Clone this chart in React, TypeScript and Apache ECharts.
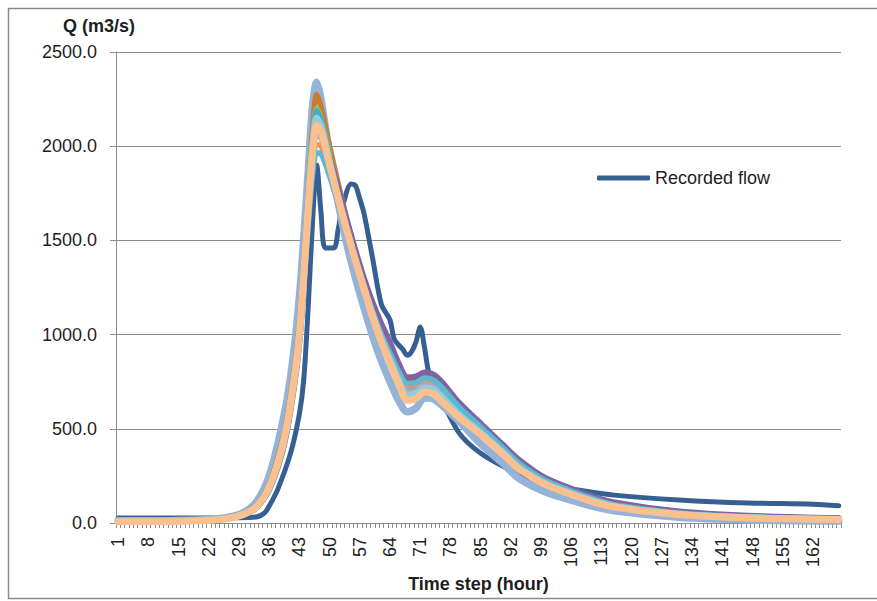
import React, { useEffect, useRef } from 'react';
import * as echarts from 'echarts';

// Hourly time steps shown on the category axis
const hours = Array.from({ length: 168 }, (_, i) => String(i + 1));

// Recorded discharge (m3/s), sampled at the listed hours
const recHours = [1, 20, 28, 33, 35, 36, 38, 41, 43, 44, 45, 46, 47, 48, 49, 51, 52, 53, 55, 56, 57, 58, 60, 62, 64, 65, 67, 68, 69, 70, 71, 72, 73, 75, 80, 85, 92, 100, 106, 116, 131, 147, 162, 168];
const recordedFlow = [26, 26, 28, 32, 55, 90, 180, 375, 580, 760, 1130, 1580, 1900, 1650, 1460, 1460, 1560, 1680, 1800, 1790, 1720, 1640, 1400, 1160, 1077, 975, 920, 890, 910, 960, 1040, 930, 800, 700, 478, 370, 280, 205, 180, 148, 122, 106, 100, 92];

// Simulated discharge runs (m3/s), sampled at these hours
const keyHours = [1, 10, 20, 26, 30, 33, 36, 39, 41, 43, 45, 46, 47, 48, 50, 52, 54, 56, 58, 60, 62, 64, 66, 68, 70, 72, 74, 76, 80, 85, 90, 94, 100, 110, 116, 131, 147, 168];

const sim1 = [12, 12, 16, 28, 55, 110, 250, 520, 780, 1200, 1850, 2200, 2340, 2250, 1950, 1700, 1480, 1300, 1140, 990, 860, 750, 650, 590, 610, 665, 660, 625, 540, 420, 320, 235, 165, 95, 65, 30, 16, 10];
const sim2 = [10, 10, 14, 24, 48, 92, 205, 430, 680, 1060, 1730, 2080, 2275, 2210, 2000, 1800, 1610, 1440, 1280, 1140, 1010, 900, 800, 730, 740, 765, 755, 715, 610, 505, 400, 315, 225, 138, 98, 54, 34, 24];
const sim3 = [10, 10, 14, 24, 46, 88, 195, 410, 650, 1020, 1680, 2020, 2200, 2150, 1960, 1770, 1590, 1430, 1280, 1140, 1020, 920, 820, 745, 750, 775, 765, 725, 620, 515, 405, 320, 230, 140, 100, 55, 35, 24];
const sim4 = [9, 9, 13, 23, 46, 88, 195, 410, 655, 1020, 1690, 2010, 2190, 2140, 1950, 1760, 1580, 1420, 1270, 1130, 1000, 895, 790, 720, 725, 750, 740, 700, 600, 495, 390, 305, 220, 132, 93, 50, 31, 22];
const sim5 = [9, 9, 13, 23, 46, 88, 195, 408, 650, 1015, 1680, 1990, 2150, 2110, 1920, 1730, 1560, 1400, 1250, 1105, 975, 865, 760, 680, 688, 718, 708, 670, 575, 480, 378, 294, 210, 125, 88, 47, 29, 20];
const sim6 = [9, 9, 13, 22, 44, 84, 185, 395, 630, 990, 1640, 1950, 2130, 2100, 1930, 1750, 1580, 1420, 1270, 1135, 1020, 915, 820, 755, 760, 785, 775, 735, 630, 520, 410, 325, 232, 142, 102, 57, 36, 25];
const sim7 = [8, 8, 12, 22, 45, 85, 190, 400, 640, 1000, 1650, 1950, 2110, 2080, 1900, 1720, 1550, 1390, 1240, 1090, 960, 850, 740, 650, 660, 695, 685, 645, 560, 470, 370, 285, 205, 120, 85, 45, 27, 19];
const sim8 = [10, 10, 14, 22, 42, 80, 175, 370, 600, 950, 1580, 1900, 2080, 2060, 1940, 1780, 1610, 1450, 1300, 1170, 1060, 960, 850, 775, 780, 800, 790, 750, 640, 530, 420, 335, 240, 150, 110, 62, 40, 27];
const sim9 = [9, 9, 13, 22, 44, 83, 182, 390, 620, 975, 1610, 1900, 2060, 2040, 1880, 1710, 1550, 1390, 1240, 1100, 980, 875, 775, 700, 705, 735, 725, 690, 590, 490, 385, 300, 215, 128, 90, 48, 30, 21];
const sim10 = [8, 8, 12, 21, 42, 80, 178, 385, 615, 965, 1590, 1870, 2010, 2000, 1860, 1700, 1545, 1390, 1245, 1110, 995, 890, 795, 730, 735, 760, 750, 712, 610, 505, 398, 312, 222, 134, 95, 51, 32, 22];
const sim11 = [8, 8, 12, 21, 42, 80, 176, 380, 608, 955, 1570, 1840, 1965, 1960, 1840, 1690, 1540, 1390, 1250, 1120, 1000, 900, 805, 740, 745, 770, 760, 720, 615, 510, 402, 316, 226, 137, 97, 53, 33, 23];

const yTicks = [0, 500, 1000, 1500, 2000, 2500];

const FONT = "'Liberation Sans', Arial, sans-serif";
const TEXT = '#1e1e1e';
const GRID = '#8c8c8c';
const RECORDED = '#376092';

// Drawing order: later runs are painted over earlier ones
const runs = [
  { name: 'Simulation 1', color: '#95B3D7', width: 7.5, values: sim1 },
  { name: 'Simulation 2', color: '#C97B30', width: 5.5, values: sim2 },
  { name: 'Simulation 3', color: '#9BBB59', width: 5.5, values: sim3 },
  { name: 'Simulation 4', color: '#4BACC6', width: 5.5, values: sim4 },
  { name: 'Simulation 6', color: '#C0504D', width: 5.5, values: sim6 },
  { name: 'Simulation 8', color: '#8064A2', width: 5.5, values: sim8 },
  { name: 'Simulation 10', color: '#F79646', width: 5, values: sim10 },
  { name: 'Simulation 9', color: '#B3A2C7', width: 5, values: sim9 },
  { name: 'Simulation 11', color: '#5CB8D3', width: 5.5, values: sim11 },
  { name: 'Simulation 5', color: '#93CDDD', width: 6.5, values: sim5 },
  { name: 'Simulation 7', color: '#FAC090', width: 7, values: sim7 },
];

export default function App() {
  const ref = useRef<HTMLDivElement>(null);

  useEffect(() => {
    if (!ref.current) return;
    const chart = echarts.init(ref.current, undefined, { renderer: 'svg' });

    const simSeries = runs.map((r) => ({
      name: r.name,
      type: 'line',
      data: keyHours.map((h, i) => [String(h), r.values[i]]),
      symbol: 'none',
      smooth: 0.3,
      lineStyle: { color: r.color, width: r.width, cap: 'round', join: 'round' },
      itemStyle: { color: r.color },
    }));

    chart.setOption({
      animation: false,
      backgroundColor: '#ffffff',
      textStyle: { fontFamily: FONT },
      title: {
        text: 'Q (m3/s)',
        left: 63,
        top: 17,
        padding: 0,
        textStyle: { fontFamily: FONT, fontSize: 18, fontWeight: 'bold', color: TEXT },
      },
      legend: {
        data: [{ name: 'Recorded flow', icon: 'roundRect' }],
        left: 597,
        top: 169,
        padding: 0,
        itemWidth: 53,
        itemHeight: 5,
        textStyle: { fontFamily: FONT, fontSize: 18, color: TEXT },
      },
      grid: { left: 116, right: 36, top: 52, bottom: 78, containLabel: false },
      xAxis: {
        type: 'category',
        data: hours,
        boundaryGap: true,
        name: 'Time step (hour)',
        nameLocation: 'middle',
        nameGap: 51,
        nameTextStyle: { fontFamily: FONT, fontSize: 18, fontWeight: 'bold', color: TEXT },
        axisLine: { show: true, lineStyle: { color: GRID, width: 1 } },
        axisTick: { show: true, interval: 0, length: 5, lineStyle: { color: GRID } },
        axisLabel: {
          interval: 6,
          rotate: 90,
          margin: 14,
          fontFamily: FONT,
          fontSize: 18,
          color: TEXT,
        },
        splitLine: { show: false },
      },
      yAxis: {
        type: 'value',
        min: yTicks[0],
        max: yTicks[yTicks.length - 1],
        interval: 500,
        axisLine: { show: true, lineStyle: { color: GRID, width: 1 } },
        axisTick: { show: true, length: 6, lineStyle: { color: GRID } },
        axisLabel: {
          formatter: (v: number) => v.toFixed(1),
          margin: 19,
          fontFamily: FONT,
          fontSize: 18,
          color: TEXT,
        },
        splitLine: { show: true, lineStyle: { color: GRID, width: 1 } },
      },
      graphic: [
        {
          type: 'rect',
          shape: { x: 8.5, y: 8.5, width: 900, height: 590 },
          style: { fill: 'none', stroke: '#8a8a8a', lineWidth: 1.5 },
          silent: true,
        },
      ],
      series: [
        {
          name: 'Recorded flow',
          type: 'line',
          data: recHours.map((h, i) => [String(h), recordedFlow[i]]),
          symbol: 'none',
          smooth: 0.3,
          lineStyle: { color: RECORDED, width: 5, cap: 'round', join: 'round' },
          itemStyle: { color: RECORDED },
        },
        ...simSeries,
      ],
    });

    return () => chart.dispose();
  }, []);

  return (
    <div
      ref={ref}
      style={{ position: 'absolute', left: 0, top: 0, width: 877, height: 601 }}
    />
  );
}
